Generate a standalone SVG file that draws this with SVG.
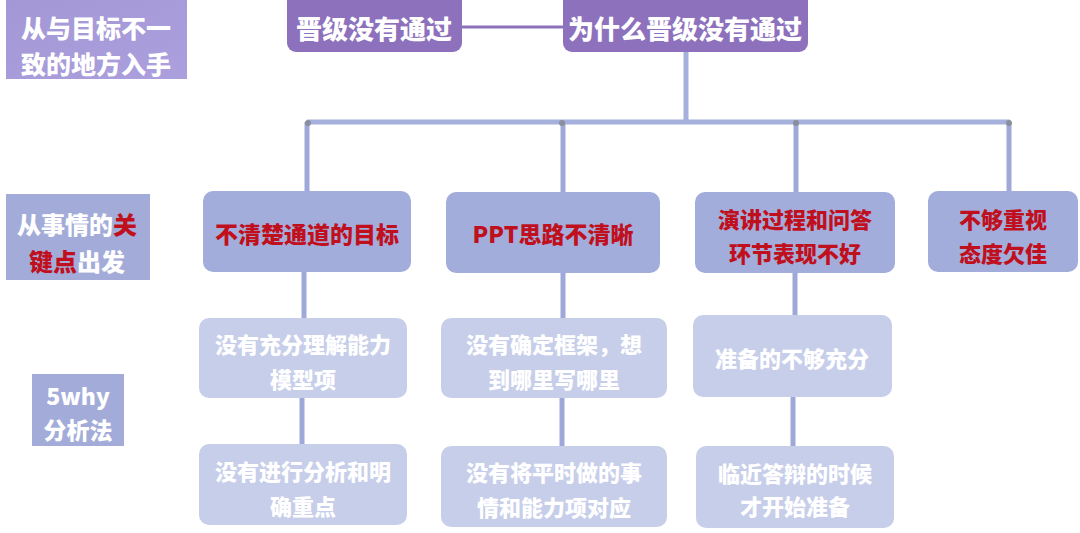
<svg xmlns="http://www.w3.org/2000/svg" width="1080" height="533" viewBox="0 0 1080 533">
<defs>
<linearGradient id="g1" x1="0" y1="0" x2="1" y2="1">
<stop offset="0" stop-color="#a397d6"/><stop offset="1" stop-color="#ab9fdd"/>
</linearGradient>
<style>
text{font-family:"Noto Sans CJK SC","Noto Sans",sans-serif;font-weight:900;text-anchor:middle;dominant-baseline:central}
.top{fill:#8d71bd}
.l2{fill:#a3addb}
.l3{fill:#c7ceea}
.w{fill:#ffffff}
.r{fill:#c0101e}
.bar{stroke:#a5b0dc;stroke-width:5;fill:none}
.vl{stroke:#9ea9d9;stroke-width:5;fill:none}
.dot{fill:#8a8f9e}
</style>
</defs>
<rect width="1080" height="533" fill="#ffffff"/>

<g id="labels">
<g id="label1">
<rect x="6" y="0" width="181" height="79" fill="url(#g1)"/>
<text x="96" y="27" font-size="25" class="w">从与目标不一</text>
<text x="96" y="63" font-size="25" class="w">致的地方入手</text>
</g>
<g id="label2">
<rect x="6" y="194" width="144" height="86" fill="#a3acd9"/>
<text x="77" y="223" font-size="24"><tspan class="w">从事情的</tspan><tspan class="r">关</tspan></text>
<text x="77" y="260" font-size="24"><tspan class="r">键点</tspan><tspan class="w">出发</tspan></text>
</g>
<g id="label3">
<rect x="32" y="374" width="92" height="72" fill="#a3acd9"/>
<text x="78" y="395" font-size="23" class="w">5why</text>
<text x="78" y="429" font-size="23" class="w">分析法</text>
</g>
</g>

<g id="connectors">
<line x1="462" y1="27" x2="563" y2="27" stroke="#8d71bd" stroke-width="3"/>
<line x1="686" y1="52" x2="686" y2="122" class="bar"/>
<line x1="307" y1="122" x2="1010" y2="122" class="bar"/>
<line x1="307" y1="122" x2="307" y2="192" class="vl"/>
<line x1="563" y1="122" x2="563" y2="192" class="vl"/>
<line x1="796" y1="122" x2="796" y2="192" class="vl"/>
<line x1="1009" y1="122" x2="1009" y2="192" class="vl"/>
<circle cx="308" cy="123" r="3" class="dot"/>
<circle cx="562" cy="123" r="3" class="dot"/>
<circle cx="796" cy="123" r="3" class="dot"/>
<circle cx="1009" cy="123" r="3" class="dot"/>
<line x1="304" y1="272" x2="304" y2="318" class="vl"/>
<line x1="302" y1="398" x2="302" y2="444" class="vl"/>
<line x1="563" y1="273" x2="563" y2="318" class="vl"/>
<line x1="562" y1="398" x2="562" y2="446" class="vl"/>
<line x1="795" y1="273" x2="795" y2="315" class="vl"/>
<line x1="793" y1="396" x2="793" y2="446" class="vl"/>
</g>

<g id="root">
<rect x="287" y="-8" width="175" height="60" rx="9" class="top"/>
<text x="374" y="27" font-size="26" class="w">晋级没有通过</text>
</g>
<g id="why">
<rect x="563" y="-8" width="245" height="60" rx="9" class="top"/>
<text x="685" y="27" font-size="26" class="w">为什么晋级没有通过</text>
</g>

<g id="n1">
<rect x="203" y="191" width="208" height="81" rx="10" class="l2"/>
<text x="307" y="233" font-size="23" class="r">不清楚通道的目标</text>
</g>
<g id="n2">
<rect x="446" y="192" width="214" height="81" rx="10" class="l2"/>
<text x="553" y="233" font-size="23" class="r">PPT思路不清晰</text>
</g>
<g id="n3">
<rect x="695" y="192" width="200" height="81" rx="10" class="l2"/>
<text x="795" y="218" font-size="22" class="r">演讲过程和问答</text>
<text x="795" y="252" font-size="22" class="r">环节表现不好</text>
</g>
<g id="n4">
<rect x="928" y="191" width="150" height="81" rx="10" class="l2"/>
<text x="1003" y="218" font-size="22" class="r">不够重视</text>
<text x="1003" y="252" font-size="22" class="r">态度欠佳</text>
</g>

<g id="n1a">
<rect x="199" y="318" width="208" height="80" rx="10" class="l3"/>
<text x="303" y="343" font-size="22" class="w">没有充分理解能力</text>
<text x="303" y="378" font-size="22" class="w">模型项</text>
</g>
<g id="n1b">
<rect x="199" y="444" width="208" height="81" rx="10" class="l3"/>
<text x="303" y="470" font-size="22" class="w">没有进行分析和明</text>
<text x="303" y="505" font-size="22" class="w">确重点</text>
</g>
<g id="n2a">
<rect x="441" y="318" width="226" height="80" rx="10" class="l3"/>
<text x="554" y="343" font-size="22" class="w">没有确定框架，想</text>
<text x="554" y="378" font-size="22" class="w">到哪里写哪里</text>
</g>
<g id="n2b">
<rect x="441" y="446" width="226" height="81" rx="10" class="l3"/>
<text x="554" y="471" font-size="22" class="w">没有将平时做的事</text>
<text x="554" y="506" font-size="22" class="w">情和能力项对应</text>
</g>
<g id="n3a">
<rect x="693" y="315" width="199" height="82" rx="10" class="l3"/>
<text x="792" y="357" font-size="22" class="w">准备的不够充分</text>
</g>
<g id="n3b">
<rect x="696" y="446" width="198" height="82" rx="10" class="l3"/>
<text x="795" y="472" font-size="22" class="w">临近答辩的时候</text>
<text x="795" y="505" font-size="22" class="w">才开始准备</text>
</g>
</svg>
